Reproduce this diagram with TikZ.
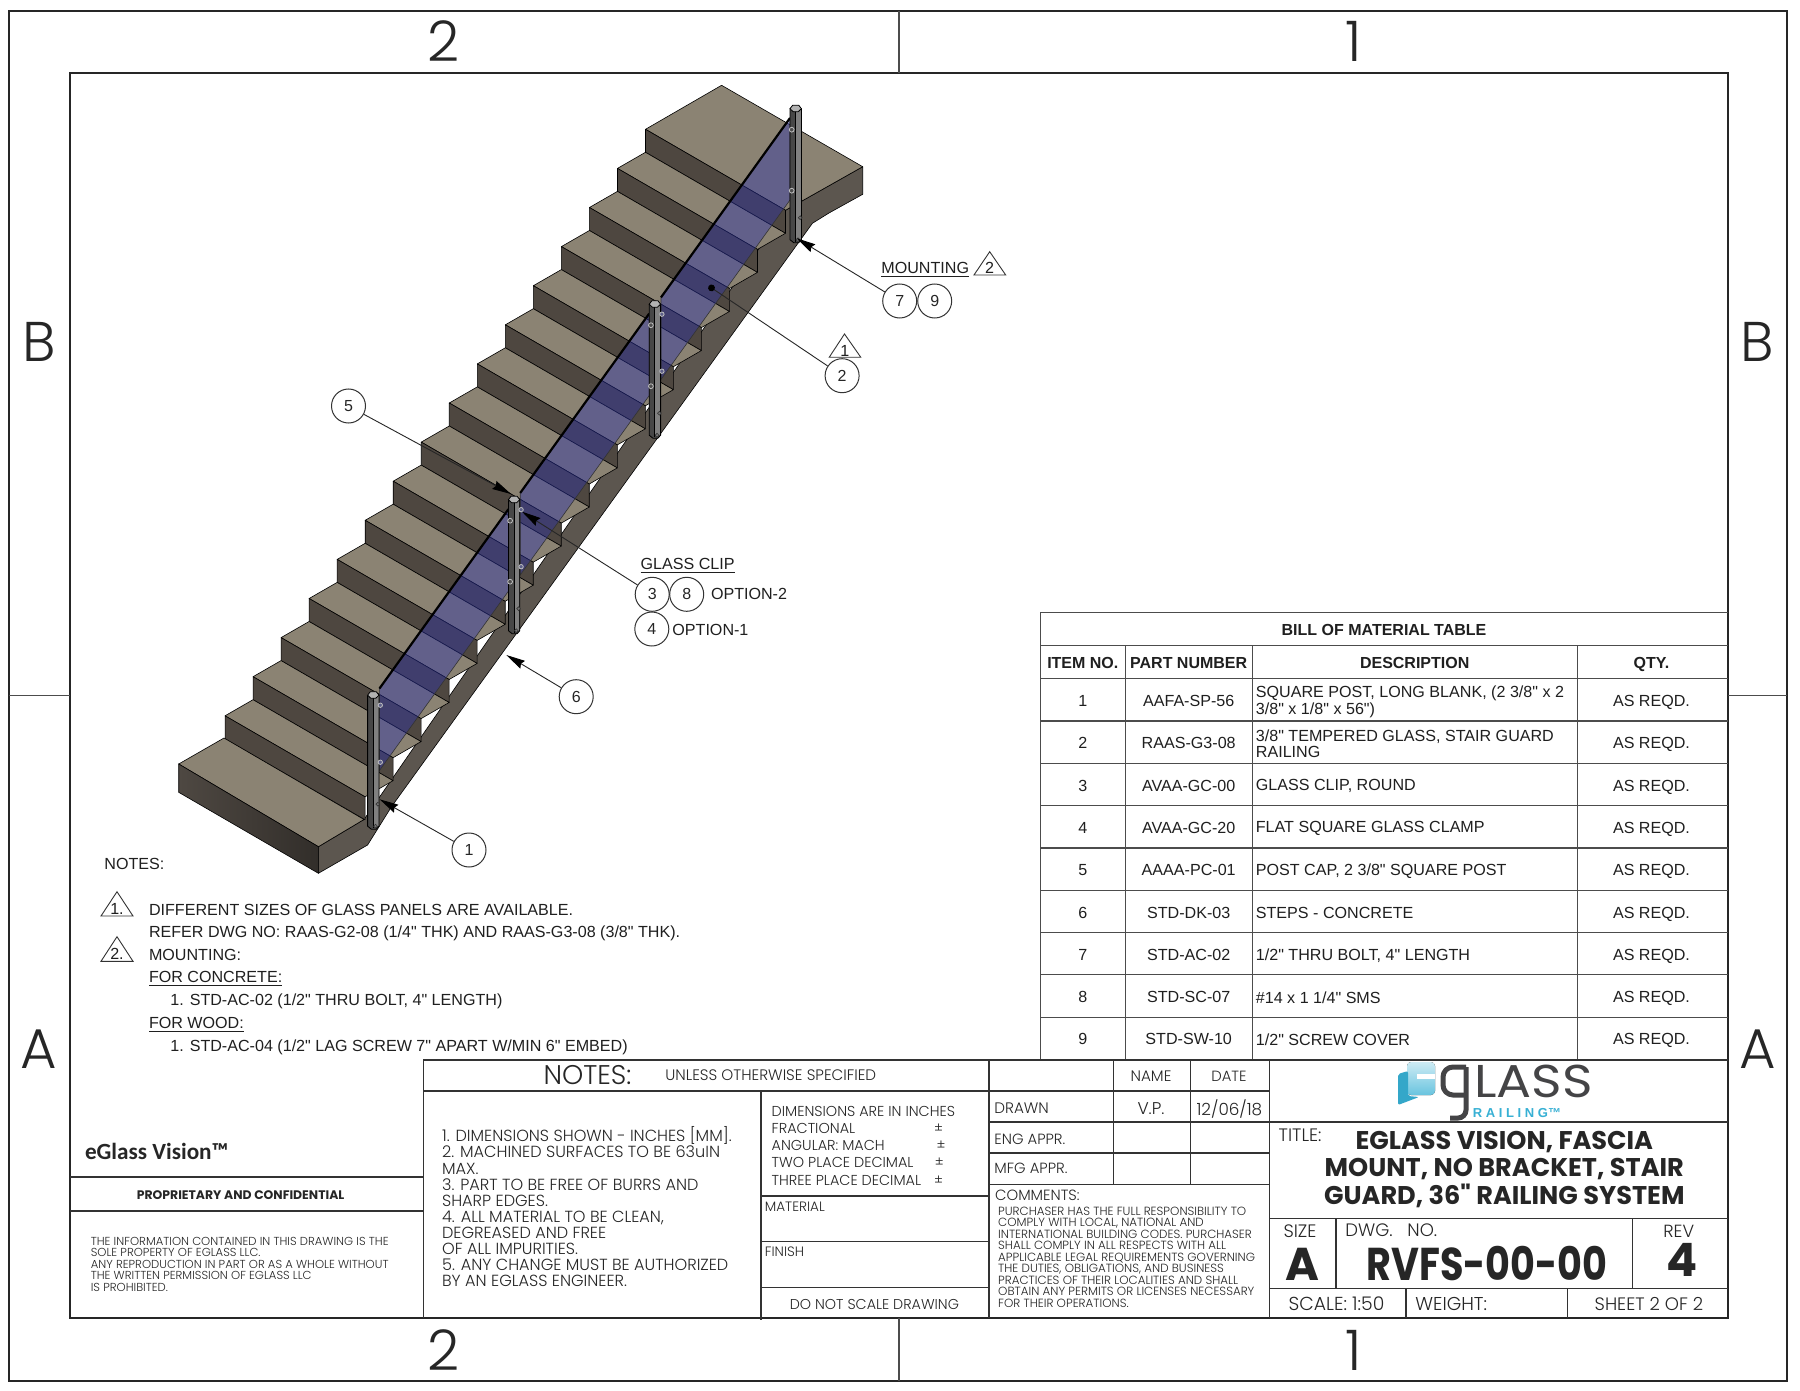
\documentclass[tikz,border=0pt]{standalone}
\usepackage{fontspec}
\setmainfont[Ligatures=TeXOff]{Liberation Sans}
\newfontfamily\gothic[UprightFont=* Light,BoldFont=* Bold]{Poppins}
\newfontfamily\gothicr{Poppins}
\newfontfamily\calib{Carlito}
\usetikzlibrary{arrows.meta,calc,positioning}
\definecolor{treadcol}{RGB}{139,131,115}
\definecolor{risercol}{RGB}{78,71,64}
\definecolor{sidecol}{RGB}{92,86,79}
\definecolor{leftcol}{RGB}{78,72,66}
\definecolor{leftdark}{RGB}{50,46,42}
\definecolor{glasscol}{RGB}{46,52,170}
\definecolor{logocol}{RGB}{68,68,70}
\definecolor{railcol}{RGB}{55,176,212}
\newcommand{\fsz}[2]{\fontsize{#1}{#2}\selectfont}
\tikzset{
  frameline/.style={line width=1pt,black!85},
  blockline/.style={line width=.8pt,black!80},
  tableline/.style={line width=.6pt,black!70},
  txt/.style={inner sep=0pt,font=\fsz{8.05}{8.2},text=black!88,yshift=-.8pt},
  gtxt/.style={inner sep=0pt,text=black!85},
  treadface/.style={fill=treadcol,draw=black,line width=.3pt,line join=round},
  riserface/.style={fill=risercol,draw=black,line width=.3pt,line join=round},
  glasspane/.style={fill=glasscol,fill opacity=.43,draw=black!80,line width=.3pt},
  balloon/.style={circle,draw=black!80,line width=.5pt,minimum size=17pt,inner sep=0pt,font=\fsz{8}{9.6},text=black!85},
  leader/.style={draw=black!85,line width=.45pt,-{Stealth[length=9.5pt,width=4.5pt,inset=1pt,black]}},
  leaderdot/.style={draw=black!85,line width=.45pt,-{Circle[length=3.4pt,width=3.4pt,black]}},
  revmark/.style={draw=black!80,line width=.45pt,line join=miter},
}
\newcommand{\railpost}[2]{% post at top centre #1,#2
  \begin{scope}[shift={(#1,#2)}]
    \fill[black!72] (-5.7,2) -- (-5.7,133) -- (-2,136) -- (3,136) -- (5.7,133) -- (5.7,2) -- cycle;
    \fill[black!50] (0,3) rectangle (5.2,133);
    \draw[black,line width=.4pt] (-5.7,2) -- (-5.7,133) -- (-2,136) -- (3,136) -- (5.7,133) -- (5.7,2);
    \draw[black,line width=.45pt] (0,3) -- (0,135);
    \draw[black,line width=.4pt,fill=black!30] (-5.7,2) -- (-3,-1.5) -- (3,-1.5) -- (5.7,2) -- (2.5,5) -- (-2.5,5) -- cycle;
  \end{scope}}
\begin{document}
\begin{tikzpicture}[x=.5pt,y=-.5pt]
\useasboundingbox (0,0) rectangle (1800,1391);
\fill[white] (0,0) rectangle (1800,1391);
% sheet border
\draw[frameline] (9,11.5) rectangle (1787,1381);
\draw[frameline] (70,73.5) rectangle (1727.5,1318);
\draw[tableline] (899,11.5) -- (899,73.5) (899,1318) -- (899,1381);
\draw[tableline] (9,695.7) -- (70,695.7) (1727.5,695.7) -- (1787,695.7);
\foreach \x/\lab in {444/2,1353.5/1} {
  \node[gtxt,font=\gothic\fsz{28}{30}] (top\lab) at (\x,41) {\lab};
  \node[gtxt,font=\gothic\fsz{28}{30}] (bot\lab) at (\x,1350) {\lab};
}
\foreach \x/\side in {39/l,1757.6/r} {
  \node[gtxt,font=\gothic\fsz{28}{30}] (zoneB\side) at (\x,342) {B};
  \node[gtxt,font=\gothic\fsz{28}{30}] (zoneA\side) at (\x,1049) {A};
}
% stairs
\fill[sidecol,draw=black,line width=.3pt,line join=round] (785.5,210.3) -- (862.7,166.7) -- (862.7,194.3) -- (829,213) -- (812.4,223.3)
  -- (391.5,806.7) -- (367.6,845) -- (318.4,873.3) -- (318.4,846.7) -- (364,819.5) -- cycle;
\draw[treadface] (721.6,85.3) -- (862.7,166.7) -- (785.5,210.3) -- (645.5,129.3) -- cycle;
\draw[riserface] (645.5,129.3) -- (785.5,210.3) -- (785.5,233.3) -- (645.5,152.3) -- cycle;
\foreach \i in {1,...,15} {
  \begin{scope}[shift={(-28.03*\i,39.1*\i)}]
    \draw[treadface] (645.5,129.3) -- (785.5,210.3) -- (813.5,194.2) -- (673.5,113.2) -- cycle;
    \draw[riserface] (645.5,129.3) -- (785.5,210.3) -- (785.5,233.3) -- (645.5,152.3) -- cycle;
  \end{scope}
}
\draw[treadface] (224,738) -- (364,819.5) -- (318.4,846.7) -- (178.7,764) -- cycle;
\draw[left color=leftcol,right color=leftdark,draw=black,line width=.3pt] (178.7,764) -- (318.4,846.7) -- (318.4,873.3) -- (178.7,792.3) -- cycle;
% glass panels
\foreach \k in {0,1,2} {
  \begin{scope}[shift={(-140.8*\k,195.6*\k)}]
    \path[glasspane] (790,118) -- (661,297.4) -- (661,379.4) -- (790,200) -- cycle;
    \draw[black,line width=1.1pt] (790,118) -- (661,297.4);
  \end{scope}
}
% posts
\foreach \k in {0,1,2,3} {
  \railpost{795.7-140.8*\k}{106.7+195.5*\k}
  \begin{scope}[shift={(795.7-140.8*\k,106.7+195.5*\k)}]
    \foreach \bx/\by in {4.5/111,2.2/133} {
      \draw[black!80,line width=.3pt,fill=black!55] (\bx,\by) circle[radius=1.9];
    }
  \end{scope}
}
\foreach \k in {0,1,2} {
  \begin{scope}[shift={(795.7-140.8*\k,106.7+195.5*\k)}]
    \foreach \by in {23,84} {
      \draw[black!25,line width=.4pt,fill=black!70] (-4,\by) circle[radius=2.4];
    }
  \end{scope}
}
\foreach \k in {1,2,3} {
  \begin{scope}[shift={(795.7-140.8*\k,106.7+195.5*\k)}]
    \foreach \by in {12,69} {
      \draw[black!25,line width=.4pt,fill=glasscol!50!black!70] (7,\by) circle[radius=2.2];
    }
  \end{scope}
}
% callouts
\node[balloon] (bal1) at (469,850) {1};
\node[balloon] (bal6) at (576.2,696.7) {6};
\node[balloon] (bal3) at (652.2,594.3) {3};
\node[balloon] (bal8) at (686.7,594.3) {8};
\node[balloon] (bal4) at (651.8,629) {4};
\node[balloon] (bal5) at (348.5,406) {5};
\node[balloon] (bal2) at (842.1,375.7) {2};
\node[balloon] (bal7) at (899.7,301) {7};
\node[balloon] (bal9) at (934.7,301) {9};
\coordinate (tip1) at (379.6,799.3);
\coordinate (tip6) at (506.3,655);
\coordinate (tip3) at (522,511.7);
\coordinate (tip5) at (511,494);
\coordinate (tip7) at (796.7,238.3);
\coordinate (tip2) at (708.7,286);
\draw[leader] (bal1) -- (tip1);
\draw[leader] (bal6) -- (tip6);
\draw[leader] (bal3) -- (tip3);
\draw[leader] (bal5) -- (tip5);
\draw[leader] (bal7) -- (tip7);
\draw[leaderdot] (bal2) -- (tip2);
\node[txt,anchor=mid west] (clipttl) at (640.3,563) {\underline{GLASS CLIP}};
\node[txt,anchor=mid west] (opt2) at (710.6,593) {OPTION-2};
\node[txt,anchor=mid west] (opt1) at (672,629) {OPTION-1};
\node[txt,anchor=mid west] (mountttl) at (881,267) {\underline{MOUNTING}};
\draw[revmark] (989.7,251.7) -- (1005.7,275) -- (974,275) -- cycle;
\node[txt] (rev2top) at (989.7,266) {2};
\draw[revmark] (844.5,334) -- (860.8,357.3) -- (829.2,357.3) -- cycle;
\node[txt] (rev1top) at (844.8,349) {1};
% notes
\node[txt,anchor=mid west] (notesttl) at (104,862.7) {NOTES:};
\draw[revmark] (117,891.7) -- (133,916) -- (101,916) -- cycle;
\node[txt] (rev1note) at (117,907) {1.};
\draw[revmark] (117,936.7) -- (133,961.3) -- (101,961.3) -- cycle;
\node[txt] (rev2note) at (117,952) {2.};
\node[txt,anchor=mid west] (note1) at (148.6,908.3) {DIFFERENT SIZES OF GLASS PANELS ARE AVAILABLE.};
\node[txt,anchor=mid west] (note2) at (148.6,930.7) {REFER DWG NO: RAAS-G2-08 (1/4" THK) AND RAAS-G3-08 (3/8" THK).};
\node[txt,anchor=mid west] (note3) at (148.6,953.3) {MOUNTING:};
\node[txt,anchor=mid west] (note4) at (148.6,976) {\underline{FOR CONCRETE:}};
\node[txt,anchor=mid west] (note5) at (170,999) {1. STD-AC-02 (1/2" THRU BOLT, 4" LENGTH)};
\node[txt,anchor=mid west] (note6) at (148.6,1021.7) {\underline{FOR WOOD:}};
\node[txt,anchor=mid west] (note7) at (170,1044.3) {1. STD-AC-04 (1/2" LAG SCREW 7" APART W/MIN 6" EMBED)};
% bill of material
\draw[tableline] (1040.4,612.3) -- (1727.5,612.3) (1040.4,645.3) -- (1727.5,645.3) (1040.4,612.3) -- (1040.4,1060);
\foreach \k in {0,...,8} {
  \draw[tableline] (1040.4,678.7+42.3*\k) -- (1727.5,678.7+42.3*\k);
}
\foreach \x in {1125.1,1252.4,1577.1} {
  \draw[tableline] (\x,645.3) -- (\x,1060);
}
\node[txt,anchor=mid,font=\bfseries\fsz{8}{9.6}] (bomttl) at (1384,629) {BILL OF MATERIAL TABLE};
\node[txt,anchor=mid,font=\bfseries\fsz{8}{9.6}] (headitem) at (1082.8,662) {ITEM NO.};
\node[txt,anchor=mid,font=\bfseries\fsz{8}{9.6}] (headpart) at (1188.7,662) {PART NUMBER};
\node[txt,anchor=mid,font=\bfseries\fsz{8}{9.6}] (headdesc) at (1414.7,662) {DESCRIPTION};
\node[txt,anchor=mid,font=\bfseries\fsz{8}{9.6}] (headqty) at (1651.5,662) {QTY.};
\foreach \n/\pn/\descr in {
  1/AAFA-SP-56/{SQUARE POST, LONG BLANK, (2 3/8" x 2\\3/8" x 1/8" x 56")},
  2/RAAS-G3-08/{3/8" TEMPERED GLASS, STAIR GUARD\\RAILING},
  3/AVAA-GC-00/{GLASS CLIP, ROUND},
  4/AVAA-GC-20/{FLAT SQUARE GLASS CLAMP},
  5/AAAA-PC-01/{POST CAP, 2 3/8" SQUARE POST},
  6/STD-DK-03/{STEPS - CONCRETE},
  7/STD-AC-02/{1/2" THRU BOLT, 4" LENGTH},
  8/STD-SC-07/{\#14 x 1 1/4" SMS},
  9/STD-SW-10/{1/2" SCREW COVER}} {
  \node[txt,anchor=mid] (item\n) at (1082.8,{699.7+42.3*(\n-1)}) {\n};
  \node[txt,anchor=mid] (part\n) at (1188.7,{699.7+42.3*(\n-1)}) {\pn};
  \node[txt,anchor=west,align=left,yshift=-.2pt] (desc\n) at (1255.5,{699.7+42.3*(\n-1)}) {\descr};
  \node[txt,anchor=mid] (qty\n) at (1651.5,{699.7+42.3*(\n-1)}) {AS REQD.};
}
% title block
\draw[blockline] (423.4,1060) -- (1727.5,1060) (423.4,1060) -- (423.4,1318);
\draw[blockline] (70,1176.7) -- (423.4,1176.7) (70,1211) -- (423.4,1211);
\draw[blockline] (423.4,1090.7) -- (1269.6,1090.7);
\draw[blockline] (760.8,1090.7) -- (760.8,1320) (989,1060) -- (989,1318) (1269.6,1060) -- (1269.6,1318);
\draw[blockline] (760.8,1196) -- (989,1196) (760.8,1241.3) -- (989,1241.3) (760.8,1287.3) -- (989,1287.3);
\draw[blockline] (989,1121.7) -- (1269.6,1121.7) (989,1152.7) -- (1269.6,1152.7) (989,1184.3) -- (1269.6,1184.3);
\draw[blockline] (1113.4,1060) -- (1113.4,1184.3) (1190.5,1060) -- (1190.5,1184.3);
\draw[blockline] (1269.6,1121.7) -- (1727.5,1121.7) (1269.6,1218.3) -- (1727.5,1218.3) (1269.6,1288.3) -- (1727.5,1288.3);
\draw[blockline] (1335.7,1218.3) -- (1335.7,1288.3) (1632.3,1218.3) -- (1632.3,1288.3) (1406,1288.3) -- (1406,1318) (1567.3,1288.3) -- (1567.3,1318);
% left part of block
\node[gtxt,anchor=mid west,font=\calib\bfseries\fsz{11.6}{13}] (product) at (84.6,1154) {eGlass Vision™};
\node[gtxt,font=\gothic\bfseries\fsz{6.2}{8}] (propr) at (240.6,1195) {PROPRIETARY AND CONFIDENTIAL};
\node[gtxt,anchor=north west,align=left,font=\gothic\fsz{5.8}{5.8}] (proprtxt) at (90.4,1236.5) {THE INFORMATION CONTAINED IN THIS DRAWING IS THE\\SOLE PROPERTY OF EGLASS LLC.\\ANY REPRODUCTION IN PART OR AS A WHOLE WITHOUT\\THE WRITTEN PERMISSION OF EGLASS LLC\\IS PROHIBITED.};
\node[gtxt,font=\gothic\fsz{13.5}{15}] (noteshead) at (587.5,1075) {NOTES:};
\node[gtxt,anchor=mid west,font=\gothic\fsz{7.6}{8}] (unless) at (665,1075) {UNLESS OTHERWISE SPECIFIED};
\node[gtxt,anchor=north west,align=left,font=\gothic\fsz{8.05}{8.02}] (noteslist) at (441.7,1126.5) {1. DIMENSIONS SHOWN - INCHES [MM].\\2. MACHINED SURFACES TO BE 63uIN\\MAX.\\3. PART TO BE FREE OF BURRS AND\\SHARP EDGES.\\4. ALL MATERIAL TO BE CLEAN,\\DEGREASED AND FREE\\OF ALL IMPURITIES.\\5. ANY CHANGE MUST BE AUTHORIZED\\BY AN EGLASS ENGINEER.};
\foreach \ln/\ty/\tx in {{DIMENSIONS ARE IN INCHES}/1111/dim,{FRACTIONAL}/1128.3/fra,{ANGULAR: MACH}/1145.3/ang,{TWO PLACE DECIMAL}/1162.7/two,{THREE PLACE DECIMAL}/1180.3/thr} {
  \node[gtxt,anchor=mid west,font=\gothic\fsz{7.2}{8}] (\tx) at (771.3,\ty) {\ln};
}
\node[gtxt,font=\gothic\fsz{6.8}{8}] (pmfra) at (938.6,1128.3) {±};
\node[gtxt,font=\gothic\fsz{6.8}{8}] (pmang) at (941,1145.3) {±};
\node[gtxt,font=\gothic\fsz{6.8}{8}] (pmtwo) at (939.3,1162.7) {±};
\node[gtxt,font=\gothic\fsz{6.8}{8}] (pmthr) at (938.6,1180.3) {±};
\node[gtxt,anchor=mid west,font=\gothic\fsz{6.8}{7}] (mater) at (764.5,1206.7) {MATERIAL};
\node[gtxt,anchor=mid west,font=\gothic\fsz{6.8}{7}] (finish) at (764.5,1251) {FINISH};
\node[gtxt,font=\gothic\fsz{7.15}{8}] (noscale) at (874.4,1304) {DO NOT SCALE DRAWING};
\node[gtxt,anchor=mid west,font=\gothic\fsz{7.6}{8}] (drawn) at (994,1108.7) {DRAWN};
\node[gtxt,anchor=mid west,font=\gothic\fsz{7.4}{8}] (engappr) at (994,1139.3) {ENG APPR.};
\node[gtxt,anchor=mid west,font=\gothic\fsz{7.4}{8}] (mfgappr) at (994,1168.3) {MFG APPR.};
\node[gtxt,font=\gothic\fsz{7.6}{8}] (namehd) at (1151,1076.5) {NAME};
\node[gtxt,font=\gothic\fsz{7.4}{8}] (datehd) at (1229,1076.5) {DATE};
\node[gtxt,font=\gothic\fsz{8.5}{9}] (nameval) at (1151,1109) {V.P.};
\node[gtxt,font=\gothic\fsz{8.4}{9}] (dateval) at (1229.4,1109) {12/06/18};
\node[gtxt,anchor=mid west,font=\gothic\fsz{7.4}{8}] (comments) at (994.8,1195.3) {COMMENTS:};
\node[gtxt,anchor=north west,align=left,font=\gothic\fsz{5.93}{5.75}] (commtxt) at (997.8,1206.5) {PURCHASER HAS THE FULL RESPONSIBILITY TO\\COMPLY WITH LOCAL, NATIONAL AND\\INTERNATIONAL BUILDING CODES. PURCHASER\\SHALL COMPLY IN ALL RESPECTS WITH ALL\\APPLICABLE LEGAL REQUIREMENTS GOVERNING\\THE DUTIES, OBLIGATIONS, AND BUSINESS\\PRACTICES OF THEIR LOCALITIES AND SHALL\\OBTAIN ANY PERMITS OR LICENSES NECESSARY\\FOR THEIR OPERATIONS.};
% logo
\fill[top color=railcol!25,bottom color=railcol!75,rounded corners=2pt] (1407,1062) rectangle (1435,1095);
\fill[white] (1417,1074) rectangle (1435,1079);
\fill[railcol!95!black,rounded corners=1pt] (1398,1074) -- (1408,1071) -- (1408,1096) -- (1419,1097) -- (1398,1105) -- cycle;
\draw[logocol,line width=2.5pt,rounded corners=5pt] (1466,1067) -- (1443,1067) -- (1443,1095) -- (1466,1095);
\draw[logocol,line width=2.5pt,rounded corners=4pt] (1466,1067) -- (1466,1118) -- (1450,1118);
\node[gtxt,font=\gothicr\fsz{23}{24},text=logocol] (logotxt) at (1533.5,1081) {\scalebox{1.13}[1]{LASS}};
\node[gtxt,font=\bfseries\fsz{6.5}{8},text=railcol] (logorail) at (1517,1113) {R A I L I N G™};
% title, number
\node[gtxt,anchor=mid west,font=\gothic\fsz{9}{9}] (titlehd) at (1278.3,1136) {TITLE:};
\node[gtxt,align=center,font=\gothic\bfseries\fsz{12.8}{13.9}] (titletxt) at (1504.3,1169.5) {EGLASS VISION, FASCIA\\MOUNT, NO BRACKET, STAIR\\GUARD, 36" RAILING SYSTEM};
\node[gtxt,font=\gothic\fsz{9}{9}] (sizehd) at (1300,1231) {SIZE};
\node[gtxt,font=\gothic\bfseries\fsz{23}{24}] (sizeval) at (1302.7,1264) {A};
\node[gtxt,anchor=mid west,font=\gothic\fsz{9}{9}] (dwghd) at (1345,1231) {DWG.\ \ \ NO.};
\node[gtxt,font=\gothic\bfseries\fsz{23}{24}] (dwgval) at (1487,1264) {\scalebox{.83}[1]{RVFS-00-00}};
\node[gtxt,font=\gothic\fsz{8.8}{9}] (revhd) at (1678.7,1231) {REV};
\node[gtxt,font=\gothic\bfseries\fsz{23}{24}] (revval) at (1681.7,1259.5) {4};
\node[gtxt,anchor=mid west,font=\gothic\fsz{9.4}{9}] (scale) at (1288.3,1305.5) {SCALE: 1:50};
\node[gtxt,anchor=mid west,font=\gothic\fsz{9.3}{9}] (weight) at (1415,1305.5) {WEIGHT:};
\node[gtxt,anchor=mid west,font=\gothic\fsz{9}{9}] (sheet) at (1594.3,1305.5) {SHEET 2 OF 2};
\end{tikzpicture}
\end{document}
